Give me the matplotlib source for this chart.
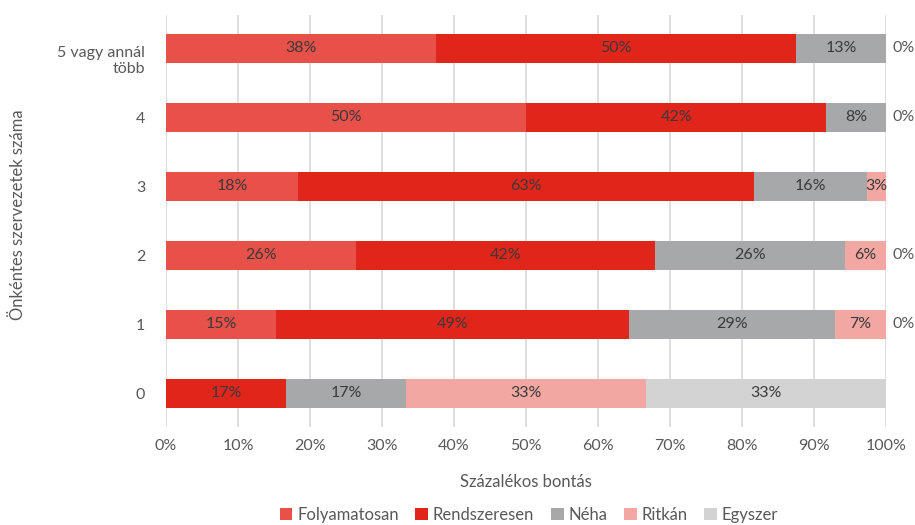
import matplotlib.pyplot as plt
import matplotlib.transforms as mtransforms
import numpy as np

plt.rcParams['font.family'] = ['Lato', 'DejaVu Sans']

# szervezetek száma szerinti csoportok (alulról felfelé)
kategoriak = ['0', '1', '2', '3', '4', '5 vagy annál\ntöbb']
sorozatok = ['Folyamatosan', 'Rendszeresen', 'Néha', 'Ritkán', 'Egyszer']
szinek = ['#e8504a', '#e0251b', '#a7a8aa', '#f2a7a2', '#d3d3d4']

folyamatosan = [0.0, 15.3, 26.4, 18.4, 50.0, 37.5]
rendszeresen = [16.7, 49.0, 41.5, 63.2, 41.7, 50.0]
neha = [16.7, 28.6, 26.4, 15.8, 8.3, 12.5]
ritkan = [33.3, 7.1, 5.7, 2.6, 0.0, 0.0]
egyszer = [33.3, 0.0, 0.0, 0.0, 0.0, 0.0]

# sorok, ahol a nulla értékű címke a sáv végén jelenik meg
nulla_cimke = [False, True, True, False, True, True]

adatok = [folyamatosan, rendszeresen, neha, ritkan, egyszer]

fig = plt.figure(figsize=(9.15, 5.25), dpi=100)
ax = fig.add_axes([166 / 915, 1 - 427 / 525, 720 / 915, 412 / 525])

y = np.arange(len(kategoriak))
bal = np.zeros(len(kategoriak))
for nev, ertekek, szin in zip(sorozatok, adatok, szinek):
    ertekek = np.array(ertekek)
    ax.barh(y, ertekek, left=bal, height=0.42, color=szin, label=nev, zorder=2)
    for i, v in enumerate(ertekek):
        if v > 0:
            ax.text(bal[i] + v / 2, y[i], f'{int(v + 0.5)}%', ha='center', va='center',
                    fontsize=11.5, color='#3a3a3a', zorder=3)
    bal += ertekek

for i, van in enumerate(nulla_cimke):
    if van:
        ax.text(100.9, y[i], '0%', ha='left', va='center', fontsize=11.5, color='#595959')

ax.set_xlim(0, 100)
ax.set_ylim(-0.49, 5.48)
ax.set_xticks(np.arange(0, 101, 10))
ax.set_xticklabels([f'{t}%' for t in range(0, 101, 10)])
ax.set_yticks(y)
ax.set_yticklabels(kategoriak, ha='right', multialignment='right')
ax.tick_params(length=0, labelsize=11.5, labelcolor='#595959')
ax.tick_params(axis='x', pad=9)
ax.tick_params(axis='y', pad=15)
ax.grid(axis='x', color='#d9d9d9', linewidth=1.2, zorder=0)
for s in ax.spines.values():
    s.set_visible(False)

# a kétsoros címke első sora kerüljön a sáv közepére
felso = ax.get_yticklabels()[-1]
felso.set_transform(felso.get_transform() +
                    mtransforms.ScaledTranslation(0, -10 / 100, fig.dpi_scale_trans))

fig.text(526 / 915, 1 - 482 / 525, 'Százalékos bontás', ha='center', va='center',
         fontsize=12, color='#595959')
fig.text(18 / 915, 1 - 215 / 525, 'Önkéntes szervezetek száma', ha='center', va='center',
         rotation=90, fontsize=12, color='#595959')

fig.legend(*ax.get_legend_handles_labels(), loc='center',
           bbox_to_anchor=(529 / 915, 1 - 515 / 525), ncol=5, frameon=False,
           fontsize=12, labelcolor='#595959', handlelength=0.75, handleheight=0.75,
           handletextpad=0.3, columnspacing=1.0, borderpad=0)

fig.savefig('out.png', dpi=100)
